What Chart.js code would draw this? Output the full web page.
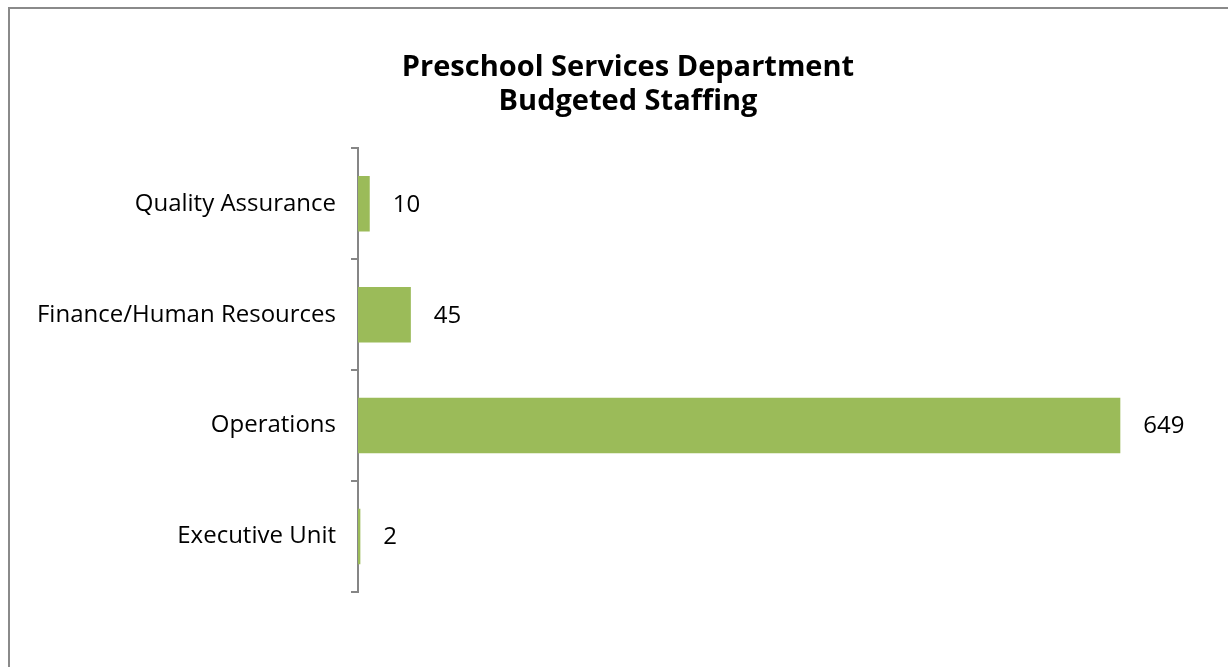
<!DOCTYPE html>
<html>
<head>
<meta charset="utf-8">
<script src="https://cdn.jsdelivr.net/npm/chart.js@4.4.1/dist/chart.umd.min.js"></script>
<style>
  html, body { margin: 0; padding: 0; background: #fff; overflow: hidden; }
  #box {
    position: absolute; left: 8px; top: 7px;
    width: 1220px; height: 660px;
    border-left: 2px solid #8a8a8a; border-top: 2px solid #8a8a8a;
    background: #fff;
  }
  #wrap { position: absolute; left: 0; top: 0; width: 1236px; height: 660px; }
</style>
</head>
<body>
<div id="box"><div id="wrap"><canvas id="myChart"></canvas></div></div>
<script>
// staffing by unit (top to bottom as shown)
const units = ["Quality Assurance", "Finance/Human Resources", "Operations", "Executive Unit"];
const staff = [10, 45, 649, 2];
const xMax = 756;

const FONT = "'Open Sans', 'DejaVu Sans', sans-serif";

// value labels past the end of each bar
const valueLabels = {
  id: "valueLabels",
  afterDatasetsDraw(chart) {
    let ctx = chart.ctx;
    let meta = chart.getDatasetMeta(0);
    ctx.save();
    ctx.font = "24px " + FONT;
    ctx.fillStyle = "#000";
    ctx.textBaseline = "middle";
    ctx.textAlign = "left";
    meta.data.forEach(function (bar, i) {
      ctx.fillText(String(staff[i]), bar.x + 23, bar.y + 1);
    });
    ctx.restore();
  }
};

const ctx = document.getElementById("myChart");
let myChart = new Chart(ctx, {
  type: "bar",
  data: {
    labels: units,
    datasets: [{
      data: staff,
      backgroundColor: "#9BBB59",
      borderWidth: 0,
      barPercentage: 0.5,
      categoryPercentage: 1.0
    }]
  },
  options: {
    indexAxis: "y",
    responsive: true,
    maintainAspectRatio: false,
    animation: false,
    layout: { padding: { top: 0, right: 0, bottom: 77, left: 0 } },
    plugins: {
      legend: { display: false },
      tooltip: { enabled: false },
      title: {
        display: true,
        text: ["Preschool Services Department", "Budgeted Staffing"],
        color: "#000",
        font: { family: FONT, size: 29, weight: "bold", lineHeight: 1.16 },
        padding: { top: 42, bottom: 30 }
      }
    },
    scales: {
      x: {
        display: false,
        min: 0,
        max: xMax
      },
      y: {
        afterFit: function (scale) { scale.width = 348; },
        border: { display: true, color: "#868686", width: 2 },
        grid: {
          offset: true,
          drawOnChartArea: false,
          drawTicks: true,
          tickLength: 7,
          color: "#868686",
          lineWidth: 2
        },
        ticks: {
          color: "#000",
          padding: 15,
          font: { family: FONT, size: 24 }
        }
      }
    }
  },
  plugins: [valueLabels]
});
</script>
</body>
</html>
